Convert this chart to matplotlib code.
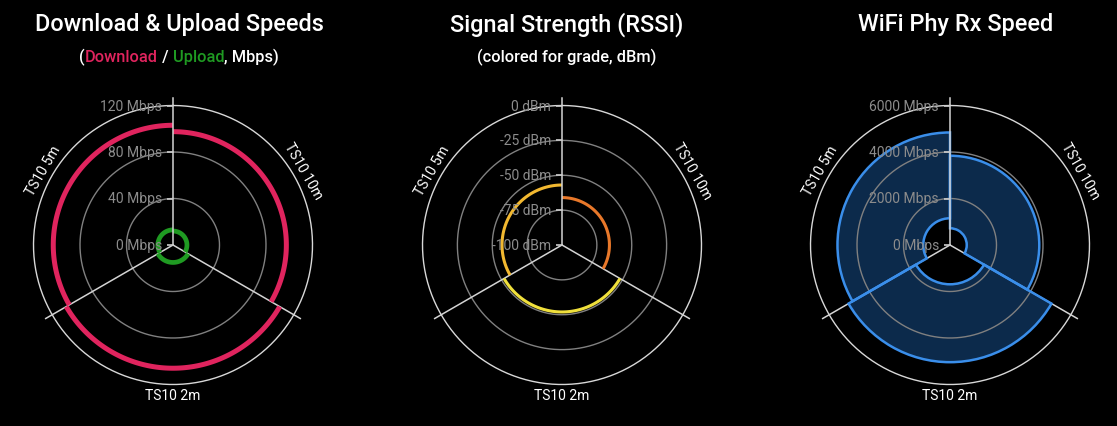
import numpy as np
import matplotlib
matplotlib.use("Agg")
import matplotlib.pyplot as plt
from matplotlib.transforms import ScaledTranslation

W, H = 1117, 427
plt.rcParams['font.family'] = ['Roboto', 'DejaVu Sans']

# ---------------- data ----------------
categories = ["TS10 10m", "TS10 2m", "TS10 5m"]
download_mbps = [97.5, 106, 103]
upload_mbps = [12, 15, 13]
rssi_dbm = [-66, -52, -57]
rssi_colors = ["#e8782a", "#f0e03c", "#f2b830"]
phy_rx_min = [720, 1690, 1150]
phy_rx_max = [3840, 5040, 4840]

speed_ticks = [0, 40, 80, 120]
rssi_ticks = [-100, -75, -50, -25, 0]
phy_ticks = [0, 2000, 4000, 6000]

PINK = "#e0245e"
GREEN = "#1f9a22"
BLUE = "#3a8eea"
BLUE_FILL = "#0c2a4b"

fig = plt.figure(figsize=(W / 100, H / 100), dpi=100, facecolor="black")

R = 139.5     # px radius of outer grid circle
EXT = 152     # px radius of axes
CY = 246      # px from top, chart centre
n_cat = len(categories)
sector = 2 * np.pi / n_cat
centers = np.arange(n_cat) * sector + sector / 2


def setup_polar(cx, ticks, unit):
    ax = fig.add_axes([(cx - EXT) / W, (H - CY - EXT) / H, 2 * EXT / W, 2 * EXT / H],
                      projection="polar")
    ax.set_facecolor("none")
    ax.grid(False)
    ax.set_xticks([])
    ax.set_yticks([])
    ax.spines["polar"].set_visible(False)
    ax.set_theta_zero_location("N")
    ax.set_theta_direction(-1)
    rmin, rmax = ticks[0], ticks[-1]
    span = rmax - rmin
    px = lambda p: rmin + span * p / R
    ax.set_ylim(rmin, px(EXT))
    th = np.linspace(0, 2 * np.pi, 400)
    for t in ticks[1:]:
        ax.plot(th, np.full_like(th, t), color="#d8d8d8" if t == rmax else "#808080",
                lw=1.0, zorder=2)
    for k in range(n_cat):
        a = k * sector
        ax.plot([a, a], [rmin, px(147)], color="#d4d4d4", lw=1.1,
                zorder=4 if k == 0 else 2.5, clip_on=False)
    tick_tr = ax.transData + ScaledTranslation(-0.033, 0, fig.dpi_scale_trans)
    lab_tr = ax.transData + ScaledTranslation(-0.11, 0, fig.dpi_scale_trans)
    for t in ticks:
        ax.plot([0], [t], marker="_", ms=4.3, mew=1.2, color="#cccccc",
                transform=tick_tr, zorder=5, clip_on=False)
        ax.text(0, t, f"{t} {unit}", ha="right", va="center", color="#8c8c8c",
                fontsize=10, transform=lab_tr, zorder=6, clip_on=False)
    for c, name in zip(centers, categories):
        deg = np.rad2deg(c)
        rot = -deg
        if 90 < deg < 270:
            rot += 180
        ax.text(c, px(150), name, rotation=rot, rotation_mode="anchor",
                ha="center", va="center", color="white", fontsize=10, clip_on=False)
    return ax


def arcs(ax, values, colors, lw, z=3):
    for c, v, col in zip(centers, values, colors):
        th = np.linspace(c - sector / 2, c + sector / 2, 120)
        ax.plot(th, np.full_like(th, v), color=col, lw=lw, solid_capstyle="butt", zorder=z)


def multicolor(x_center, y_base, pieces, fontsize):
    texts = []
    for s, col in pieces:
        texts.append(fig.text(0, 1 - y_base / H, s, color=col, fontsize=fontsize,
                              fontweight="medium", ha="left", va="baseline"))
    fig.canvas.draw()
    r = fig.canvas.get_renderer()
    probe = fig.text(0, 0, "x", fontsize=fontsize, fontweight="medium")
    wx = probe.get_window_extent(r).width
    starts = []
    prefix = ""
    for s, _ in pieces:
        probe.set_text(prefix + "x")
        starts.append(probe.get_window_extent(r).width - wx if prefix else 0)
        prefix += s
    probe.set_text(prefix)
    total = probe.get_window_extent(r).width
    probe.remove()
    x0 = x_center - total / 2
    for t, s0 in zip(texts, starts):
        t.set_x((x0 + s0) / W)


# ---------------- chart 1 ----------------
ax1 = setup_polar(173, speed_ticks, "Mbps")
arcs(ax1, download_mbps, [PINK] * n_cat, 3.6)
arcs(ax1, upload_mbps, [GREEN] * n_cat, 3.4)

# ---------------- chart 2 ----------------
ax2 = setup_polar(562, rssi_ticks, "dBm")
arcs(ax2, rssi_dbm, rssi_colors, 2.2)

# ---------------- chart 3 ----------------
ax3 = setup_polar(950, phy_ticks, "Mbps")
heights = np.array(phy_rx_max) - np.array(phy_rx_min)
ax3.bar(centers, heights, bottom=phy_rx_min, width=sector, color=BLUE_FILL,
        edgecolor="none", zorder=1)
ax3.bar(centers, heights, bottom=phy_rx_min, width=sector, fill=False,
        edgecolor=BLUE, lw=1.8, zorder=3)

# ---------------- titles ----------------
for xc, title in [(179, "Download & Upload Speeds"), (567, "Signal Strength (RSSI)"),
                  (955.5, "WiFi Phy Rx Speed")]:
    fig.text(xc / W, 1 - 31.5 / H, title, color="white", fontsize=16.9, fontweight="medium",
             ha="center", va="baseline")

multicolor(179, 62, [("(", "white"), ("Download", PINK), (" / ", "white"),
                     ("Upload", GREEN), (", Mbps)", "white")], 11.8)
multicolor(566.7, 62, [("(colored for grade, dBm)", "white")], 11.8)

fig.savefig("out.png", dpi=100, facecolor="black")
